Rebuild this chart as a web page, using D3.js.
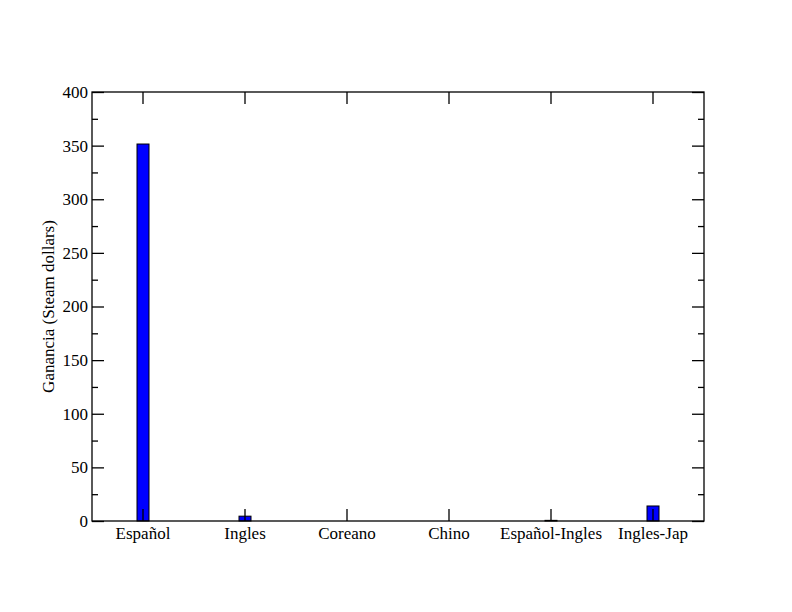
<!DOCTYPE html>
<html>
<head>
<meta charset="utf-8">
<script src="https://cdn.jsdelivr.net/npm/d3@7"></script>
<style>
  body { margin: 0; background: #fff; }
  text { font-family: "Liberation Serif", "DejaVu Serif", serif; }
</style>
</head>
<body>
<script>
// chart data
var categories = ["Español", "Ingles", "Coreano", "Chino", "Español-Ingles", "Ingles-Jap"];
var values = [351.5, 4.5, 0, 0, 0.6, 14];
var yTicks = [0, 50, 100, 150, 200, 250, 300, 350, 400];
var yLabel = "Ganancia (Steam dollars)";

// set the dimensions and margins of the graph
var margin = {top: 92, right: 88, bottom: 91, left: 92},
width = 792 - margin.left - margin.right,
height = 612 - margin.top - margin.bottom;

var x = d3.scaleBand().domain(categories).range([0, width]);
var y = d3.scaleLinear().domain([0, 400]).range([height, 0]);
var barW = 12;

var svg = d3.select("body").append("svg")
.attr("width", 792)
.attr("height", 612)
.append("g")
.attr("transform", "translate(" + margin.left + "," + margin.top + ")");

// bars
svg.selectAll("rect.bar").data(values).enter().append("rect")
.attr("class", "bar")
.attr("x", function(d, i) { return x(categories[i]) + x.bandwidth() / 2 - barW / 2; })
.attr("y", function(d) { return y(d); })
.attr("width", barW)
.attr("height", function(d) { return height - y(d); })
.attr("fill", "#0000ff")
.attr("stroke", "#000")
.attr("stroke-width", 1);

// minor ticks every 25
var minor = d3.range(25, 400, 50);

function styleAxis(g) {
  g.select(".domain").remove();
  g.selectAll("line").attr("stroke", "#000").attr("stroke-width", 1.3);
  g.selectAll("text").style("font-size", "17px").attr("fill", "#000");
}

// left axis
svg.append("g").call(d3.axisLeft(y).tickValues(yTicks).tickSize(-12).tickPadding(4))
.call(styleAxis);
svg.append("g").call(d3.axisLeft(y).tickValues(minor).tickSize(-6).tickFormat(""))
.call(styleAxis);
// right axis
svg.append("g").attr("transform", "translate(" + width + ",0)")
.call(d3.axisRight(y).tickValues(yTicks).tickSize(-12).tickFormat(""))
.call(styleAxis);
svg.append("g").attr("transform", "translate(" + width + ",0)")
.call(d3.axisRight(y).tickValues(minor).tickSize(-6).tickFormat(""))
.call(styleAxis);
// bottom axis
svg.append("g").attr("transform", "translate(0," + height + ")")
.call(d3.axisBottom(x).tickSize(-12).tickPadding(6))
.call(styleAxis);
// top axis
svg.append("g")
.call(d3.axisTop(x).tickSize(-12).tickFormat(""))
.call(styleAxis);

// frame
svg.append("rect")
.attr("width", width).attr("height", height)
.attr("fill", "none").attr("stroke", "#000").attr("stroke-width", 1.3);

// y label
svg.append("text")
.attr("transform", "translate(" + (-38) + "," + (height / 2) + ") rotate(-90)")
.attr("text-anchor", "middle")
.style("font-size", "17px")
.text(yLabel);
</script>
</body>
</html>
